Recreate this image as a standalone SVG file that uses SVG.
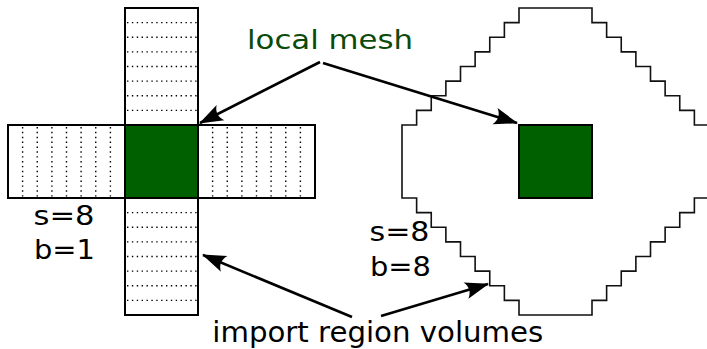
<svg xmlns="http://www.w3.org/2000/svg" width="707" height="349" viewBox="0 0 707 349">
  <style>
    .arm { fill: #ffffff; stroke: #000000; stroke-width: 2; }
    .core { fill: #006000; stroke: #000000; stroke-width: 2; }
    .dots { stroke: #000000; stroke-width: 1.4; stroke-dasharray: 1.4 3.47; fill: none; }
    .stair { fill: #ffffff; stroke: #111111; stroke-width: 1.6; }
    .lbl { font-family: "DejaVu Sans", "Liberation Sans", sans-serif; font-size: 27px; fill: #000000; }
    .green { fill: #0a4a0a; }
    .arrow { stroke: #000000; stroke-width: 2.6; fill: none; marker-end: url(#ah); }
  </style>
  <defs>
    <marker id="ah" markerUnits="userSpaceOnUse" markerWidth="30" markerHeight="20" refX="0" refY="0" viewBox="-26 -10 28 20" orient="auto" overflow="visible">
      <path d="M1,0 L-23,-8.5 C-18.5,-3 -18.5,3 -23,8.5 Z" fill="#000000"/>
    </marker>
  </defs>

  <g id="cross">
    <g id="arm-top">
      <rect class="arm" x="125" y="8" width="73" height="117"/>
      <path class="dots" d="M127,22.6H197M127,37.25H197M127,51.9H197M127,66.5H197M127,81.1H197M127,95.75H197M127,110.4H197"/>
    </g>
    <g id="arm-bottom">
      <rect class="arm" x="125" y="198" width="73" height="117"/>
      <path class="dots" d="M127,212.6H197M127,227.25H197M127,241.9H197M127,256.5H197M127,271.1H197M127,285.75H197M127,300.4H197"/>
    </g>
    <g id="arm-left">
      <rect class="arm" x="8" y="125" width="117" height="73"/>
      <path class="dots" d="M22.6,127V197M37.25,127V197M51.9,127V197M66.5,127V197M81.1,127V197M95.75,127V197M110.4,127V197"/>
    </g>
    <g id="arm-right">
      <rect class="arm" x="198" y="125" width="117" height="73"/>
      <path class="dots" d="M212.6,127V197M227.25,127V197M241.9,127V197M256.5,127V197M271.1,127V197M285.75,127V197M300.4,127V197"/>
    </g>
    <g id="local-left">
      <rect class="core" x="125" y="125" width="73" height="73"/>
    </g>
  </g>

  <g id="stair-region">
    <path class="stair" d="M519,8H592v14.625h14.625v14.625h14.625v14.625h14.625v14.625h14.625v14.625h14.625v14.625h14.625v14.625h14.625v14.625h14.625V198h-14.625v14.625h-14.625v14.625h-14.625v14.625h-14.625v14.625h-14.625v14.625h-14.625v14.625h-14.625v14.625h-14.625v14.625H519v-14.625h-14.625v-14.625h-14.625v-14.625h-14.625v-14.625h-14.625v-14.625h-14.625v-14.625h-14.625v-14.625h-14.625v-14.625h-14.625V125h14.625v-14.625h14.625v-14.625h14.625v-14.625h14.625v-14.625h14.625v-14.625h14.625v-14.625h14.625v-14.625h14.625Z"/>
  </g>
  <g id="local-right">
    <rect class="core" x="519" y="125" width="73" height="73"/>
  </g>

  <g id="connectors">
    <line class="arrow" x1="320" y1="62" x2="200" y2="123"/>
    <line class="arrow" x1="323" y1="63" x2="517" y2="123"/>
    <line class="arrow" x1="352" y1="317" x2="203" y2="255"/>
    <line class="arrow" x1="381" y1="316" x2="488" y2="284"/>
  </g>

  <g id="labels">
    <text class="lbl green" x="247" y="49" textLength="166" lengthAdjust="spacingAndGlyphs">local mesh</text>
    <text class="lbl" x="33.5" y="225" textLength="61" lengthAdjust="spacingAndGlyphs">s=8</text>
    <text class="lbl" x="34" y="259" textLength="61" lengthAdjust="spacingAndGlyphs">b=1</text>
    <text class="lbl" x="369.5" y="241" textLength="60" lengthAdjust="spacingAndGlyphs">s=8</text>
    <text class="lbl" x="370" y="276" textLength="61" lengthAdjust="spacingAndGlyphs">b=8</text>
    <text class="lbl" x="212.3" y="342" textLength="331" lengthAdjust="spacingAndGlyphs" style="font-size:28px">import region volumes</text>
  </g>
</svg>
